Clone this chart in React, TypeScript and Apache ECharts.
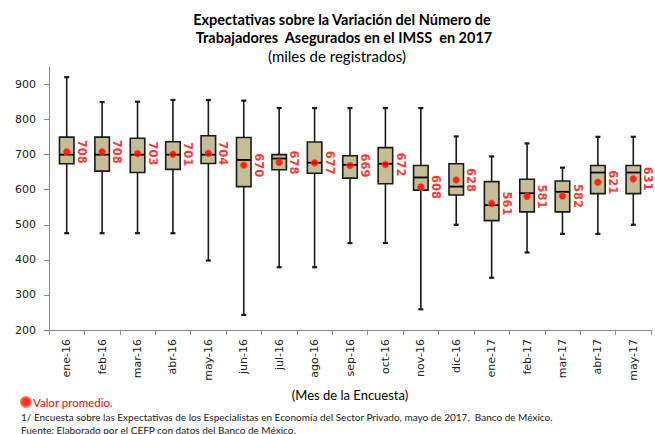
import React, { useEffect, useRef } from "react";
import * as echarts from "echarts";

const categories = ["ene-16","feb-16","mar-16","abr-16","may-16","jun-16","jul-16","ago-16","sep-16","oct-16","nov-16","dic-16","ene-17","feb-17","mar-17","abr-17","may-17"];
const maxValues = [921, 850, 851, 856, 856, 854, 833, 833, 833, 833, 833, 752, 695, 732, 663, 751, 751];
const q3Values = [750, 750, 747, 737, 754, 749, 700, 736, 697, 720, 669, 674, 623, 630, 625, 669, 669];
const medianValues = [700, 700, 700, 700, 700, 685, 689, 677, 671, 674, 635, 609, 556, 590, 594, 649, 649];
const q1Values = [674, 653, 649, 658, 675, 609, 657, 647, 633, 617, 599, 585, 512, 537, 537, 589, 589];
const minValues = [476, 476, 476, 476, 398, 243, 379, 379, 448, 448, 259, 500, 349, 421, 474, 474, 500];
const meanValues = [708, 708, 703, 701, 704, 670, 678, 677, 669, 672, 608, 628, 561, 581, 582, 621, 631];
const yTicks = [200, 300, 400, 500, 600, 700, 800, 900];

const titleLine1 = "Expectativas sobre la Variación del Número de";
const titleLine2 = "Trabajadores  Asegurados en el IMSS  en 2017";
const subtitle = "(miles de registrados)";
const xName = "(Mes de la Encuesta)";
const legendName = "Valor promedio.";
const note1 = "1/ Encuesta sobre las Expectativas de los Especialistas en Economía del Sector Privado, mayo de 2017,  Banco de México.";
const note2 = "Fuente: Elaborado por el CEFP con datos del Banco de México.";

const TITLE_FONT = "Lato, 'Open Sans', sans-serif";
const AXIS_FONT = "'DejaVu Sans', Verdana, sans-serif";

export default function App() {
  const ref = useRef<HTMLDivElement>(null);
  useEffect(() => {
    if (!ref.current) return;
    const chart = echarts.init(ref.current, null, { renderer: "svg" });
    const boxData = categories.map((_, i) => [i, minValues[i], q1Values[i], medianValues[i], q3Values[i], maxValues[i]]);
    const stroke = "#1a1a1a";
    chart.setOption({
      animation: false,
      backgroundColor: "#ffffff",
      legend: {
        data: [legendName],
        left: 20,
        top: 396,
        padding: 0,
        icon: "circle",
        itemWidth: 10,
        itemHeight: 10,
        itemGap: 2,
        textStyle: { color: "#ff0000", fontSize: 11.5, fontFamily: TITLE_FONT, padding: [0, 0, 0, -3] },
      },
      grid: { left: 49, right: 4, top: 67, bottom: 104 },
      xAxis: {
        type: "category",
        data: categories,
        name: xName,
        nameLocation: "middle",
        nameGap: 56,
        nameTextStyle: { fontFamily: TITLE_FONT, fontSize: 13, color: "#000" },
        axisLine: { lineStyle: { color: "#868686" } },
        axisTick: { show: true, length: 5, lineStyle: { color: "#868686" } },
        axisLabel: { rotate: 90, margin: 9, fontFamily: AXIS_FONT, fontSize: 11, color: "#222", interval: 0 },
        splitLine: { show: false },
      },
      yAxis: {
        type: "value",
        min: 200,
        max: 950,
        interval: 100,
        axisLine: { show: true, lineStyle: { color: "#868686" } },
        axisTick: { show: true, length: 5, lineStyle: { color: "#868686" }, customValues: yTicks },
        axisLabel: { margin: 13, fontFamily: AXIS_FONT, fontSize: 11, color: "#222", customValues: yTicks },
        splitLine: { show: false },
      },
      series: [
        {
          type: "custom",
          name: "box",
          data: boxData,
          encode: { x: 0, y: [1, 2, 3, 4, 5] },
          renderItem: (params: any, api: any) => {
            const x = api.value(0);
            const pMin = api.coord([x, api.value(1)]);
            const pQ1 = api.coord([x, api.value(2)]);
            const pMed = api.coord([x, api.value(3)]);
            const pQ3 = api.coord([x, api.value(4)]);
            const pMax = api.coord([x, api.value(5)]);
            const bw = api.size([1, 0])[0] * 0.41;
            const cx = pMax[0];
            const cap = 2.5;
            const ls = { stroke, lineWidth: 1.6 };
            return {
              type: "group",
              children: [
                { type: "line", shape: { x1: cx, y1: pMax[1], x2: cx, y2: pQ3[1] }, style: ls },
                { type: "line", shape: { x1: cx, y1: pQ1[1], x2: cx, y2: pMin[1] }, style: ls },
                { type: "line", shape: { x1: cx - cap, y1: pMax[1], x2: cx + cap, y2: pMax[1] }, style: { stroke, lineWidth: 2.2 } },
                { type: "line", shape: { x1: cx - cap, y1: pMin[1], x2: cx + cap, y2: pMin[1] }, style: { stroke, lineWidth: 2.2 } },
                { type: "rect", shape: { x: cx - bw / 2, y: pQ3[1], width: bw, height: pQ1[1] - pQ3[1] }, style: { fill: "#c4bd97", stroke, lineWidth: 1.6 } },
                { type: "line", shape: { x1: cx - bw / 2, y1: pMed[1], x2: cx + bw / 2, y2: pMed[1] }, style: { stroke: "#000", lineWidth: 1.8 } },
              ],
            };
          },
          z: 2,
        },
        {
          type: "scatter",
          name: legendName,
          data: meanValues,
          symbol: "circle",
          symbolSize: 7,
          itemStyle: { color: "#ff0000", borderColor: "#ff6a3a", borderWidth: 0.8 },
          z: 3,
          label: {
            show: true,
            formatter: (p: any) => String(p.value),
            position: [19, "50%"],
            rotate: -90,
            align: "center",
            verticalAlign: "middle",
            color: "#ff0000",
            fontWeight: "bold",
            fontSize: 11.5,
            fontFamily: AXIS_FONT,
          },
        },
      ],
      graphic: [
        { type: "text", x: 342, y: 19, style: { text: titleLine1, font: `bold 14.5px ${TITLE_FONT}`, fill: "#000", textAlign: "center", textVerticalAlign: "middle" } },
        { type: "text", x: 344, y: 37.5, style: { text: titleLine2, font: `bold 14.5px ${TITLE_FONT}`, fill: "#000", textAlign: "center", textVerticalAlign: "middle" } },
        { type: "text", x: 337, y: 56, style: { text: subtitle, font: `15px ${TITLE_FONT}`, fill: "#000", textAlign: "center", textVerticalAlign: "middle" } },
        { type: "text", x: 21, y: 416.5, style: { text: note1, font: `10px ${TITLE_FONT}`, fill: "#222", textVerticalAlign: "middle" } },
        { type: "text", x: 21, y: 429.5, style: { text: note2, font: `10px ${TITLE_FONT}`, fill: "#222", textVerticalAlign: "middle" } },
      ],
    });
    return () => chart.dispose();
  }, []);
  return <div ref={ref} style={{ width: 655, height: 434, position: "absolute", left: 0, top: 0 }} />;
}
